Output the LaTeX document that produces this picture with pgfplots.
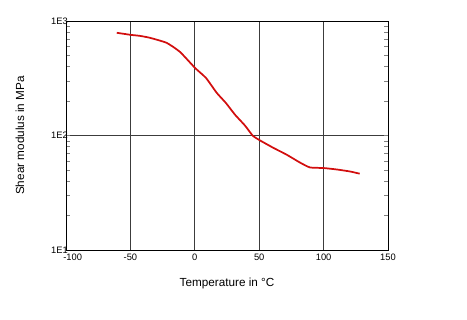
\documentclass[border=0pt]{standalone}
\usepackage{fontspec}
\setmainfont{Liberation Sans}
\usepackage{pgfplots}
\pgfplotsset{compat=1.18}
\definecolor{curve}{RGB}{210,14,14}
\definecolor{gridc}{RGB}{60,60,60}

\begin{document}
\begin{tikzpicture}
\useasboundingbox (-49.5pt,-52.5pt) rectangle (300.75pt,187.5pt);
\begin{axis}[
    at={(0,0)}, anchor=south west,
    scale only axis,
    width=241.5pt, height=171.75pt,
    xmin=-100, xmax=150,
    ymode=log, ymin=10, ymax=1000,
    xtick={-100,-50,0,50,100,150},
    xticklabels={\hspace*{10pt}-100,-50,0,50,100,150},
    ytick={10,100,1000},
    yticklabels={1E1,1E2,1E3},
    major tick length=0pt,
    xmajorgrids, ymajorgrids,
    grid style={gridc, line width=0.6pt},
    axis line style={black, line width=0.6pt},
    tick label style={font=\fontsize{7}{8}\selectfont},
    xticklabel style={inner sep=0pt, anchor=north, yshift=-2.5pt},
    yticklabel style={inner sep=0pt, anchor=east, xshift=1.5pt},
    xlabel={Temperature in °C},
    ylabel={Shear modulus in MPa},
    label style={font=\fontsize{8.8}{10}\selectfont},
    xlabel style={at={(rel axis cs:0.5,0)}, anchor=center, yshift=-24.75pt},
    ylabel style={at={(rel axis cs:0,0.5)}, anchor=center},
    every axis y label/.append style={yshift=34.5pt},
]
\addplot[curve, line width=1.3pt, smooth, tension=0.3] coordinates {
(-60.6,789) (-49.8,757) (-42.5,741) (-34.8,713) (-21.8,644) (-11.5,537)
(0.2,389) (8.7,318) (17,236) (24.2,192) (31.2,152) (39,122) (45,99.6)
(50.6,90.6) (61,78) (71.3,68) (81.7,58) (89.4,52.6) (99.8,52) (110.2,50.5)
(120.5,48.5) (128,46.4)
};
\end{axis}
\end{tikzpicture}
\end{document}
